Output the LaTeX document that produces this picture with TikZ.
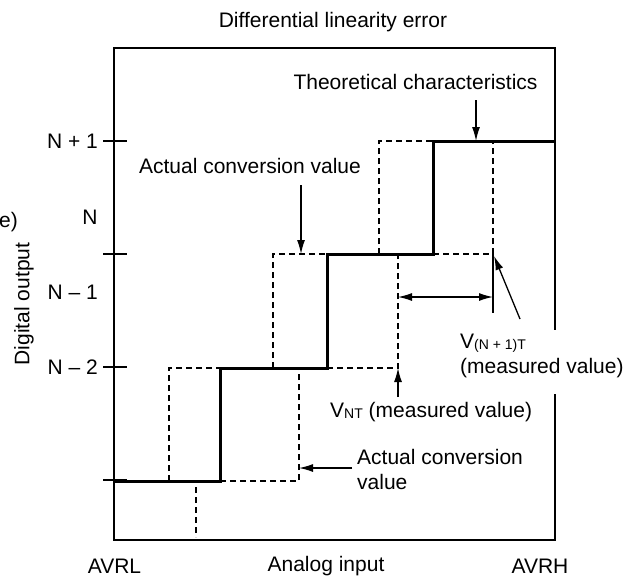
\documentclass[tikz,border=0pt]{standalone}
\usepackage{fontspec}
\setmainfont{Liberation Sans}
\usetikzlibrary{arrows.meta}
\begin{document}
\begin{tikzpicture}[x=1pt,y=-1pt,
  lbl/.style={font=\fontsize{21}{25}\selectfont, inner sep=0pt},
  frame/.style={line width=2.6pt},
  theo/.style={line width=3pt, line join=miter},
  act/.style={line width=1.3pt, dash pattern=on 6pt off 4pt},
  thin/.style={line width=1.3pt},
  ptr/.style={line width=1.3pt, -{Latex[length=14pt,width=8pt]}},
  dbl/.style={line width=1.3pt, {Latex[length=14pt,width=8pt]}-{Latex[length=14pt,width=8pt]}}]
\useasboundingbox (0,0) rectangle (634,581);
% frame
\draw[frame] (114,48) rectangle (555,540);
% ticks
\foreach \yy in {141,254,367,480} \draw[thin] (103,\yy) -- (127,\yy);
% theoretical staircase
\draw[theo] (114,481) -- (220,481) -- (220,368) -- (327,368) -- (327,254) -- (433,254) -- (433,141) -- (555,141);
% actual conversion (dashed)
\draw[act] (169,481) -- (169,368) -- (220,368);
\draw[act] (220,481) -- (299,481) -- (299,368);
\draw[act] (196,487) -- (196,537);
\draw[act] (273,368) -- (273,254) -- (327,254);
\draw[act] (327,368) -- (398,368) -- (398,254);
\draw[act] (379,254) -- (379,141) -- (433,141);
\draw[act] (433,254) -- (493,254) -- (493,141);
% measurement
\coordinate (mtop) at (493,254);
\coordinate (mbot) at (493,313);
\draw[thin] (mtop) -- (mbot);
\coordinate (dl) at (398,297);
\coordinate (dr) at (493,297);
\draw[dbl] (dl) -- (dr);
% labels
\node[lbl] (title) at (333,22) {Differential linearity error};
\node[lbl] (theolbl) at (415.5,82) {Theoretical characteristics};
\node[lbl] (actup) at (250,166) {Actual conversion value};
\node[lbl,anchor=east] (n1) at (98,141) {N + 1};
\node[lbl] (n0) at (90,217) {N};
\node[lbl,anchor=east] (nm1) at (98,292) {N – 1};
\node[lbl,anchor=east] (nm2) at (98,367) {N – 2};
\node[lbl,rotate=90] (dout) at (24,304) {Digital output};
\node[lbl,anchor=east] (cut) at (18,222) {e)};
\node[lbl,anchor=west] (vnt) at (330,412) {V{\fontsize{14}{14}\selectfont\raisebox{-1pt}{NT}} (measured value)};
\node[lbl,anchor=west,align=left] (actlow) at (357,469.5) {Actual conversion\\value};
\node[lbl,anchor=north west,align=left,fill=white,inner xsep=4pt,inner ysep=4pt] (vn1t) at (456,330) {V{\fontsize{14}{14}\selectfont\raisebox{-1pt}{(N + 1)T}}\\(measured value)\rule[-16pt]{0pt}{1pt}};
\node[lbl] (avrl) at (114.5,566) {AVRL};
\node[lbl] (ain) at (326,566) {Analog input};
\node[lbl] (avrh) at (540,566) {AVRH};
% pointer arrows
\coordinate (p1s) at (476,100);
\coordinate (p1e) at (476,141);
\draw[ptr] (p1s) -- (p1e);
\coordinate (p2s) at (301,185);
\coordinate (p2e) at (301,254);
\draw[ptr] (p2s) -- (p2e);
\coordinate (p3s) at (352,468);
\coordinate (p3e) at (299,468);
\draw[ptr] (p3s) -- (p3e);
\coordinate (p4s) at (398,397);
\coordinate (p4e) at (398,368);
\draw[ptr] (p4s) -- (p4e);
\coordinate (p5s) at (520,319);
\coordinate (p5e) at (494,256);
\draw[ptr] (p5s) -- (p5e);
\end{tikzpicture}
\end{document}
